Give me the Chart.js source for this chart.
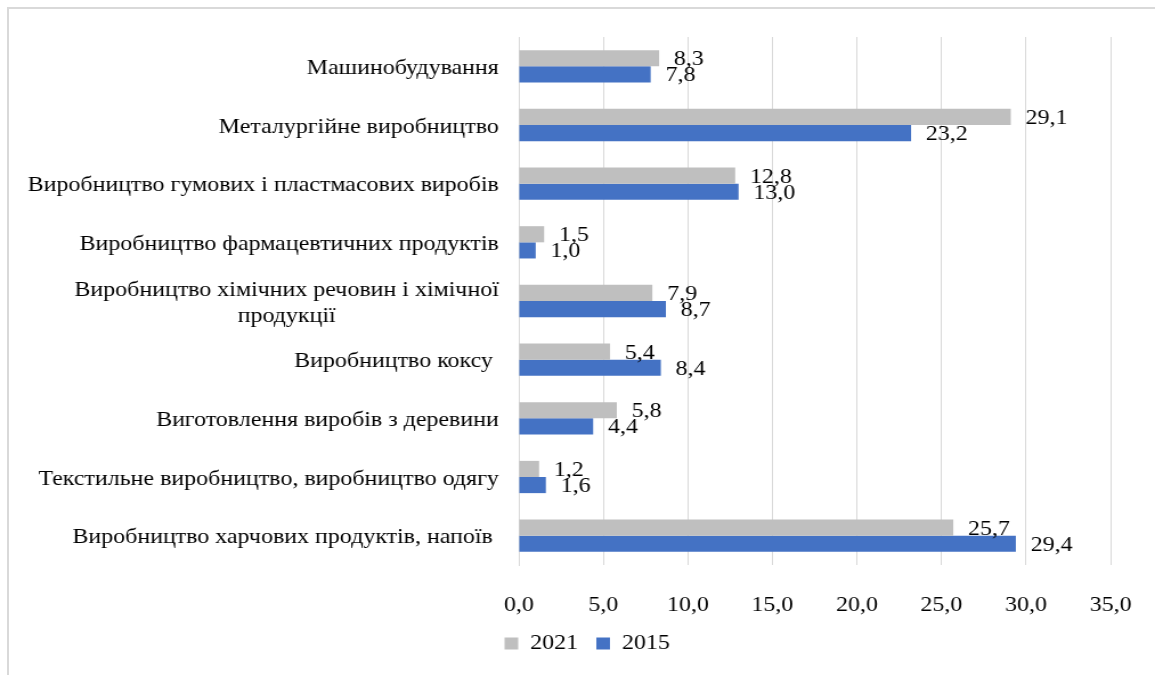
<!DOCTYPE html>
<html>
<head>
<meta charset="utf-8">
<script src="https://cdn.jsdelivr.net/npm/chart.js@4.4.0/dist/chart.umd.min.js"></script>
<style>
  html, body { margin: 0; padding: 0; background: #fff; }
  #wrap { position: relative; width: 1155px; height: 675px; }
  #myChart { display: block; }
  #frame { position: absolute; left: 7px; top: 7px; right: 0; bottom: 0;
           border-top: 2px solid #d9d9d9; border-left: 2px solid #d9d9d9; pointer-events: none; }
</style>
</head>
<body>
<div id="wrap">
  <!-- a figura original é esticada na horizontal: canvas 1013 px mostrado a 1155 px -->
  <canvas id="myChart" width="1013" height="675" style="width:1155px;height:675px"></canvas>
  <div id="frame"></div>
</div>
<script>
// galuzi (zverkhu vnyz)
var categories = [
    'Машинобудування',
    'Металургійне виробництво',
    'Виробництво гумових і пластмасових виробів',
    'Виробництво фармацевтичних продуктів',
    ['Виробництво хімічних речовин і хімічної', 'продукції'],
    'Виробництво коксу ',
    'Виготовлення виробів з деревини',
    'Текстильне виробництво, виробництво одягу',
    'Виробництво харчових продуктів, напоїв '
]
var dados2021 = [8.3, 29.1, 12.8, 1.5, 7.9, 5.4, 5.8, 1.2, 25.7]
var dados2015 = [7.8, 23.2, 13.0, 1.0, 8.7, 8.4, 4.4, 1.6, 29.4]
var xTicks = [0, 5, 10, 15, 20, 25, 30, 35]

var fonte = '"Times New Roman", "Liberation Serif", serif'
var tamanho = 21

function virgula(v) {
    return Number(v).toFixed(1).replace('.', ',')
}

// rótulos das categorias (linhas centradas, bloco alinhado à direita)
const rotulosCategorias = {
    id: 'rotulosCategorias',
    afterDraw(chart) {
        const ctx = chart.ctx
        const y = chart.scales.y
        ctx.save()
        ctx.font = tamanho + 'px ' + fonte
        ctx.fillStyle = '#000'
        ctx.textAlign = 'center'
        ctx.textBaseline = 'middle'
        categories.forEach((lab, i) => {
            const linhas = Array.isArray(lab) ? lab : [lab]
            const w = Math.max(...linhas.map(l => ctx.measureText(l).width))
            const cx = y.right - 17.5 - w / 2
            const yc = y.getPixelForTick(i)
            linhas.forEach((l, k) => {
                ctx.fillText(l, cx, yc + 2 + (k - (linhas.length - 1) / 2) * 26)
            })
        })
        ctx.restore()
    }
}

// valores ao lado das barras
const rotulosValores = {
    id: 'rotulosValores',
    afterDatasetsDraw(chart) {
        const ctx = chart.ctx
        ctx.save()
        ctx.font = tamanho + 'px ' + fonte
        ctx.fillStyle = '#000'
        ctx.textAlign = 'left'
        ctx.textBaseline = 'middle'
        chart.data.datasets.forEach((ds, di) => {
            chart.getDatasetMeta(di).data.forEach((bar, i) => {
                ctx.fillText(virgula(ds.data[i]), bar.x + 13, bar.y + 1.5)
            })
        })
        ctx.restore()
    }
}

const ctx = document.getElementById('myChart')

var grafico = new Chart(ctx, {
    type: 'bar',
    data: {
        labels: categories,
        datasets: [{
            label: '2021',
            data: dados2021,
            backgroundColor: '#bfbfbf',
            borderWidth: 0
        }, {
            label: '2015',
            data: dados2015,
            backgroundColor: '#4472c4',
            borderWidth: 0
        }]
    },
    options: {
        indexAxis: 'y',
        responsive: false,
        animation: false,
        events: [],
        layout: { padding: { left: 56, right: 39, top: 37, bottom: 11 } },
        datasets: { bar: { categoryPercentage: 0.55, barPercentage: 1 } },
        plugins: {
            tooltip: { enabled: false },
            legend: {
                position: 'bottom',
                labels: {
                    boxWidth: 12,
                    boxHeight: 12,
                    padding: 16,
                    color: '#000',
                    font: { family: fonte, size: 21 }
                }
            }
        },
        scales: {
            x: {
                min: 0,
                max: 35,
                afterBuildTicks: function (scale) {
                    scale.ticks = xTicks.map(v => ({ value: v }))
                },
                afterFit: function (scale) {
                    scale.height = 52
                    scale.paddingRight = 0
                },
                grid: { color: '#d9d9d9', drawTicks: false },
                border: { display: false },
                ticks: {
                    padding: 28,
                    color: '#000',
                    font: { family: fonte, size: tamanho },
                    maxRotation: 0,
                    callback: v => virgula(v)
                }
            },
            y: {
                grid: { display: false },
                border: { color: '#d9d9d9' },
                ticks: { display: false },
                afterFit: function (scale) {
                    scale.width = 455 - 56
                }
            }
        }
    },
    plugins: [rotulosCategorias, rotulosValores]
})
</script>
</body>
</html>
